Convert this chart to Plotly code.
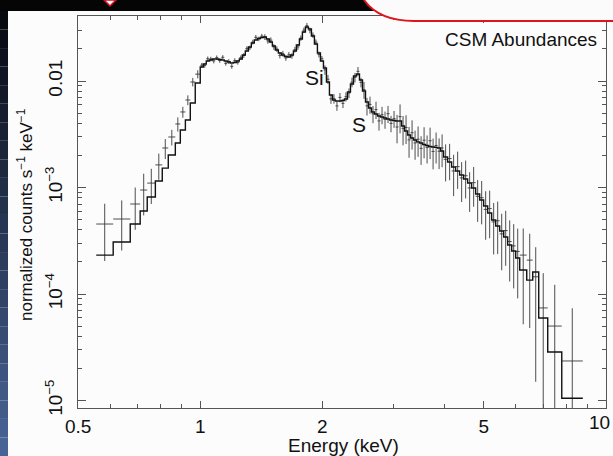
import math
import plotly.graph_objects as go

# ---- spectrum: channel edges (keV), folded model, data and 1-sigma errors ----
edges = [
    0.554, 0.610, 0.672, 0.711, 0.740, 0.775, 0.806, 0.834, 0.868, 0.893, 0.919, 0.945, 0.972,
    1.0000, 1.0172, 1.0347, 1.0525, 1.0706, 1.0890, 1.1077, 1.1268, 1.1462, 1.1659,
    1.1860, 1.2064, 1.2271, 1.2482, 1.2697, 1.2915, 1.3137, 1.3363, 1.3593, 1.3827,
    1.4065, 1.4307, 1.4553, 1.4803, 1.5058, 1.5317, 1.5580, 1.5849, 1.6121, 1.6399,
    1.6681, 1.6968, 1.7260, 1.7557, 1.7859, 1.8166, 1.8478, 1.8796, 1.9120, 1.9448,
    1.9783, 2.0124, 2.0470, 2.0822, 2.1180, 2.1544, 2.1915, 2.2292, 2.2675, 2.3065,
    2.3462, 2.3866, 2.4276, 2.4694, 2.5119, 2.5551, 2.5990, 2.6438, 2.6892, 2.7355,
    2.7826, 2.8305, 2.8792, 2.9287, 2.9791, 3.0304, 3.0825, 3.1355, 3.1895, 3.2444,
    3.3002, 3.3570, 3.4147, 3.4735, 3.5332, 3.5938, 3.6557, 3.7186, 3.7825, 3.8476,
    3.9138, 3.9811,
    4.0727, 4.1664, 4.2622, 4.3602, 4.4605, 4.5631, 4.6680, 4.7754, 4.8852, 4.9976,
    5.1125, 5.2301, 5.3504, 5.4735, 5.5994, 5.7281, 5.8599, 5.9947, 6.1326,
    6.382, 6.603, 6.832, 7.190, 7.786, 8.774,
]

model = [
    2.32e-4, 3.08e-4, 4.54e-4, 6.01e-4, 8.14e-4, 1.15e-3, 1.52e-3, 2.02e-3, 2.62e-3, 3.47e-3,
    4.30e-3, 6.21e-3, 9.58e-3,
    0.01353, 0.01444, 0.01541, 0.01575, 0.01609, 0.01609, 0.01592, 0.01575, 0.01541, 0.01508,
    0.01476, 0.01492, 0.01541, 0.01609, 0.01754, 0.01913, 0.02086, 0.02275, 0.02427, 0.02507,
    0.02562, 0.02589, 0.02480, 0.02324, 0.02132, 0.01955, 0.01832, 0.01754, 0.01698, 0.01680,
    0.01754, 0.01913, 0.02178, 0.02480, 0.02885, 0.03214, 0.03078, 0.02646, 0.02226, 0.01832,
    0.01541, 0.01325, 0.00979, 0.00739, 0.00663, 0.00649, 0.00649, 0.00656, 0.00678, 0.00788,
    0.00937, 0.01114, 0.01163, 0.01022, 0.00806, 0.00635, 0.00558, 0.00512, 0.00490, 0.00469,
    0.00459, 0.00449, 0.00440, 0.00430, 0.00426, 0.00421, 0.00421, 0.00378, 0.00339, 0.00311,
    0.00292, 0.00279, 0.00268, 0.00262, 0.00253, 0.00248, 0.00243, 0.00240, 0.00238, 0.00235,
    0.00220,
    1.934e-3, 1.735e-3, 1.558e-3, 1.429e-3, 1.310e-3, 1.202e-3, 1.102e-3, 9.89e-4, 8.69e-4,
    7.63e-4, 6.70e-4, 5.76e-4, 4.95e-4, 4.35e-4, 3.90e-4, 3.43e-4, 2.88e-4, 2.53e-4, 2.18e-4,
    1.68e-4, 1.35e-4, 1.61e-4, 5.95e-5, 2.85e-5, 1.05e-5,
]

counts = [
    4.54e-4, 5.06e-4, 7.00e-4, 9.47e-4, 1.10e-3, 1.63e-3, 2.35e-3, 2.98e-3, 3.95e-3, 5.12e-3,
    6.63e-3, 9.79e-3, 1.16e-2,
    0.01407, 0.01401, 0.01618, 0.01607, 0.01545, 0.01657, 0.01560, 0.01670, 0.01464, 0.01523,
    0.01373, 0.01552, 0.01495, 0.01657, 0.01736, 0.02009, 0.02044, 0.02320, 0.02573, 0.02482,
    0.02639, 0.02589, 0.02381, 0.02417, 0.02089, 0.01994, 0.01740, 0.01807, 0.01647, 0.01764,
    0.01719, 0.01970, 0.02091, 0.02530, 0.03000, 0.03310, 0.02986, 0.02699, 0.02315, 0.01777,
    0.01618, 0.01272, 0.01038, 0.00680, 0.00683, 0.00584, 0.00701, 0.00617, 0.00712, 0.00772,
    0.00974, 0.01081, 0.01233, 0.00971, 0.00830, 0.00584, 0.00603, 0.00492, 0.00539, 0.00422,
    0.00482, 0.00436, 0.00493, 0.00400, 0.00443, 0.00370, 0.00463, 0.00359, 0.00366, 0.00280,
    0.00327, 0.00262, 0.00284, 0.00233, 0.00278, 0.00238, 0.00275, 0.00218, 0.00248, 0.00219,
    0.00235,
    1.84e-3, 1.87e-3, 1.43e-3, 1.57e-3, 1.23e-3, 1.29e-3, 9.90e-4, 1.11e-3, 8.26e-4,
    8.01e-4, 6.23e-4, 6.34e-4, 4.75e-4, 4.87e-4, 3.67e-4, 3.94e-4, 3.11e-4, 2.83e-4, 2.51e-4,
    2.32e-4, 2.08e-4, 1.45e-4, 7.40e-5, 5.00e-5, 2.35e-5,
]

errors = [
    2.5e-4, 2.5e-4, 3.0e-4, 4.0e-4, 4.0e-4, 4.5e-4, 5.0e-4, 5.0e-4, 6.0e-4, 6.0e-4,
    7.0e-4, 9.0e-4, 1.0e-3,
    7e-4, 7e-4, 8e-4, 8e-4, 8e-4, 8e-4, 8e-4, 8e-4, 7e-4, 8e-4,
    7e-4, 8e-4, 7e-4, 8e-4, 9e-4, 1.0e-3, 1.0e-3, 1.2e-3, 1.3e-3, 1.2e-3,
    1.3e-3, 1.6e-3, 1.4e-3, 1.5e-3, 1.3e-3, 1.2e-3, 1.1e-3, 1.1e-3, 1.0e-3, 1.1e-3,
    1.0e-3, 1.2e-3, 1.3e-3, 1.5e-3, 1.8e-3, 2.0e-3, 1.8e-3, 1.6e-3, 1.4e-3, 1.1e-3,
    1.0e-3, 1.3e-3, 1.0e-3, 7e-4, 7e-4, 6e-4, 7e-4, 6e-4, 7e-4, 8e-4,
    1.0e-3, 1.1e-3, 1.2e-3, 1.0e-3, 1.5e-3, 1.1e-3, 1.1e-3, 9e-4, 1.0e-3, 8e-4,
    9e-4, 8e-4, 9e-4, 7e-4, 8e-4, 1.1e-3, 1.4e-3, 1.1e-3, 1.1e-3, 9e-4,
    1.0e-3, 8e-4, 9e-4, 7e-4, 9e-4, 7e-4, 9e-4, 7e-4, 8e-4, 7e-4,
    8e-4,
    7.0e-4, 7.0e-4, 6.0e-4, 6.0e-4, 5.0e-4, 5.0e-4, 4.0e-4, 4.5e-4, 3.5e-4,
    3.5e-4, 3.0e-4, 3.0e-4, 2.4e-4, 2.5e-4, 2.0e-4, 2.1e-4, 1.8e-4, 1.7e-4, 1.6e-4,
    1.8e-4, 1.6e-4, 1.3e-4, 8.3e-5, 7.2e-5, 5.0e-5,
]

# the "10" at the far right edge is set as a separate label so it cannot widen the page
x_ticks = [0.5, 1, 2, 5, 10]
x_tick_text = ["0.5", "1", "2", "5", ""]
x_minor = [0.6, 0.7, 0.8, 0.9, 3, 4, 6, 7, 8, 9]
y_ticks = [1e-5, 1e-4, 1e-3, 1e-2]
y_tick_text = ["10<sup>−5</sup>", "10<sup>−4</sup>", "10<sup>−3</sup>", "0.01"]
y_minor = [m * d for d in (1e-5, 1e-4, 1e-3) for m in range(2, 10)] + [0.02, 0.03, 0.04]

FONT = "Liberation Sans, Arial, Helvetica, sans-serif"
INK = "#111111"
AXIS = "#555555"

# ---- figure geometry (pixels) ----
W, H = 613, 456
L, R, T, B = 78, 606, 16, 408


def px(x):
    return (x - L) / (R - L)


def py(y):
    return (B - y) / (B - T)


lo = edges[:-1]
hi = edges[1:]
centres = [math.sqrt(a * b) for a, b in zip(lo, hi)]

fig = go.Figure()

# data points: horizontal bar = channel width, vertical bar = 1-sigma error
fig.add_trace(go.Scatter(
    x=centres, y=counts, mode="markers",
    marker=dict(size=1, color="rgba(0,0,0,0)"),
    error_x=dict(type="data", symmetric=False,
                 array=[b - c for b, c in zip(hi, centres)],
                 arrayminus=[c - a for a, c in zip(lo, centres)],
                 color="#3a3a3a", thickness=0.9, width=0),
    error_y=dict(type="data", array=errors, color="#3a3a3a", thickness=0.9, width=0),
    showlegend=False, hoverinfo="skip",
))

# folded model as a histogram
fig.add_trace(go.Scatter(
    x=edges, y=model + [model[-1]], mode="lines",
    line=dict(color="#111111", width=1.4, shape="hv"),
    showlegend=False, hoverinfo="skip",
))

# ---- slide decorations around the plot ----
shapes = []
# dark left strip, shading from black at the top to blue at the bottom
n_strip = 24
for i in range(n_strip):
    f = i / (n_strip - 1)
    r = int(8 + f * (72 - 8))
    g = int(10 + f * (100 - 10))
    b = int(18 + f * (150 - 18))
    y0 = 11 + (H - 11) * i / n_strip
    y1 = 11 + (H - 11) * (i + 1) / n_strip
    shapes.append(dict(type="rect", xref="paper", yref="paper",
                       x0=px(0), x1=px(8), y0=py(y1), y1=py(y0),
                       fillcolor=f"rgb({r},{g},{b})", line=dict(width=0), layer="above"))
# black title bar
shapes.append(dict(type="rect", xref="paper", yref="paper",
                   x0=px(0), x1=px(385), y0=py(11), y1=py(0),
                   fillcolor="#050505", line=dict(width=0), layer="above"))
# white callout box with a red rounded outline
box = (f"M {px(364)},{py(0)} C {px(374)},{py(14)} {px(390)},{py(21)} {px(414)},{py(21)} "
       f"L {px(613)},{py(21)} L {px(613)},{py(0)} Z")
shapes.append(dict(type="path", xref="paper", yref="paper", path=box,
                   fillcolor="#fbfbfb", line=dict(width=0), layer="above"))
edge_path = (f"M {px(364)},{py(0)} C {px(374)},{py(14)} {px(390)},{py(21)} {px(414)},{py(21)} "
             f"L {px(613)},{py(21)}")
shapes.append(dict(type="path", xref="paper", yref="paper", path=edge_path,
                   line=dict(color="#e0141c", width=2), layer="above"))
# small red marker in the title bar
marker_path = f"M {px(104)},{py(0)} L {px(116)},{py(0)} L {px(110)},{py(6)} Z"
shapes.append(dict(type="path", xref="paper", yref="paper", path=marker_path,
                   fillcolor="#f4f4f4", line=dict(color="#d0101a", width=1.5), layer="above"))

annotations = [
    dict(text="CSM Abundances", xref="paper", yref="paper", x=px(599), y=py(40),
         xanchor="right", yanchor="middle", showarrow=False,
         font=dict(family=FONT, size=19, color=INK)),
    dict(text="Si", xref="paper", yref="paper", x=px(314), y=py(77),
         xanchor="center", yanchor="middle", showarrow=False,
         font=dict(family=FONT, size=21, color=INK)),
    dict(text="S", xref="paper", yref="paper", x=px(359), y=py(125),
         xanchor="center", yanchor="middle", showarrow=False,
         font=dict(family=FONT, size=21, color=INK)),
    dict(text="10", xref="paper", yref="paper", x=px(612), y=py(422),
         xanchor="right", yanchor="middle", showarrow=False,
         font=dict(family=FONT, size=19, color=INK)),
    dict(text="Energy (keV)", xref="paper", yref="paper", x=px(343), y=py(445),
         xanchor="center", yanchor="middle", showarrow=False,
         font=dict(family=FONT, size=19, color=INK)),
    dict(text="normalized counts s<sup>−1</sup> keV<sup>−1</sup>", xref="paper", yref="paper",
         x=px(25), y=py(215), xanchor="center", yanchor="middle", textangle=-90,
         showarrow=False, font=dict(family=FONT, size=17, color=INK)),
]

fig.update_layout(
    width=W, height=H,
    margin=dict(l=L, r=W - R, t=T, b=H - B, pad=0),
    paper_bgcolor="#fcfcfc", plot_bgcolor="#fcfcfc",
    shapes=shapes, annotations=annotations,
    font=dict(family=FONT, size=19, color=INK),
)
fig.update_xaxes(
    type="log", range=[math.log10(0.5) - 0.0004, 1.0004], autorange=False,
    tickvals=x_ticks, ticktext=x_tick_text, ticks="inside", ticklen=7, tickwidth=1,
    tickcolor=AXIS, showline=True, linecolor=AXIS, linewidth=1, mirror="ticks",
    showgrid=False, zeroline=False, tickfont=dict(family=FONT, size=19, color=INK),
    ticklabelstandoff=1,
    minor=dict(tickvals=x_minor, ticks="inside", ticklen=4, tickwidth=1, tickcolor=AXIS,
               showgrid=False),
)
fig.update_yaxes(
    type="log", range=[-5.0704, -1.3897], autorange=False,
    tickvals=y_ticks, ticktext=y_tick_text, tickangle=-90, ticks="inside", ticklen=8,
    tickwidth=1, tickcolor=AXIS, showline=True, linecolor=AXIS, linewidth=1, mirror="ticks",
    showgrid=False, zeroline=False, tickfont=dict(family=FONT, size=19, color=INK),
    ticklabelstandoff=7,
    minor=dict(tickvals=y_minor, ticks="inside", ticklen=4, tickwidth=1, tickcolor=AXIS,
               showgrid=False),
)

fig.write_html("out.html")
